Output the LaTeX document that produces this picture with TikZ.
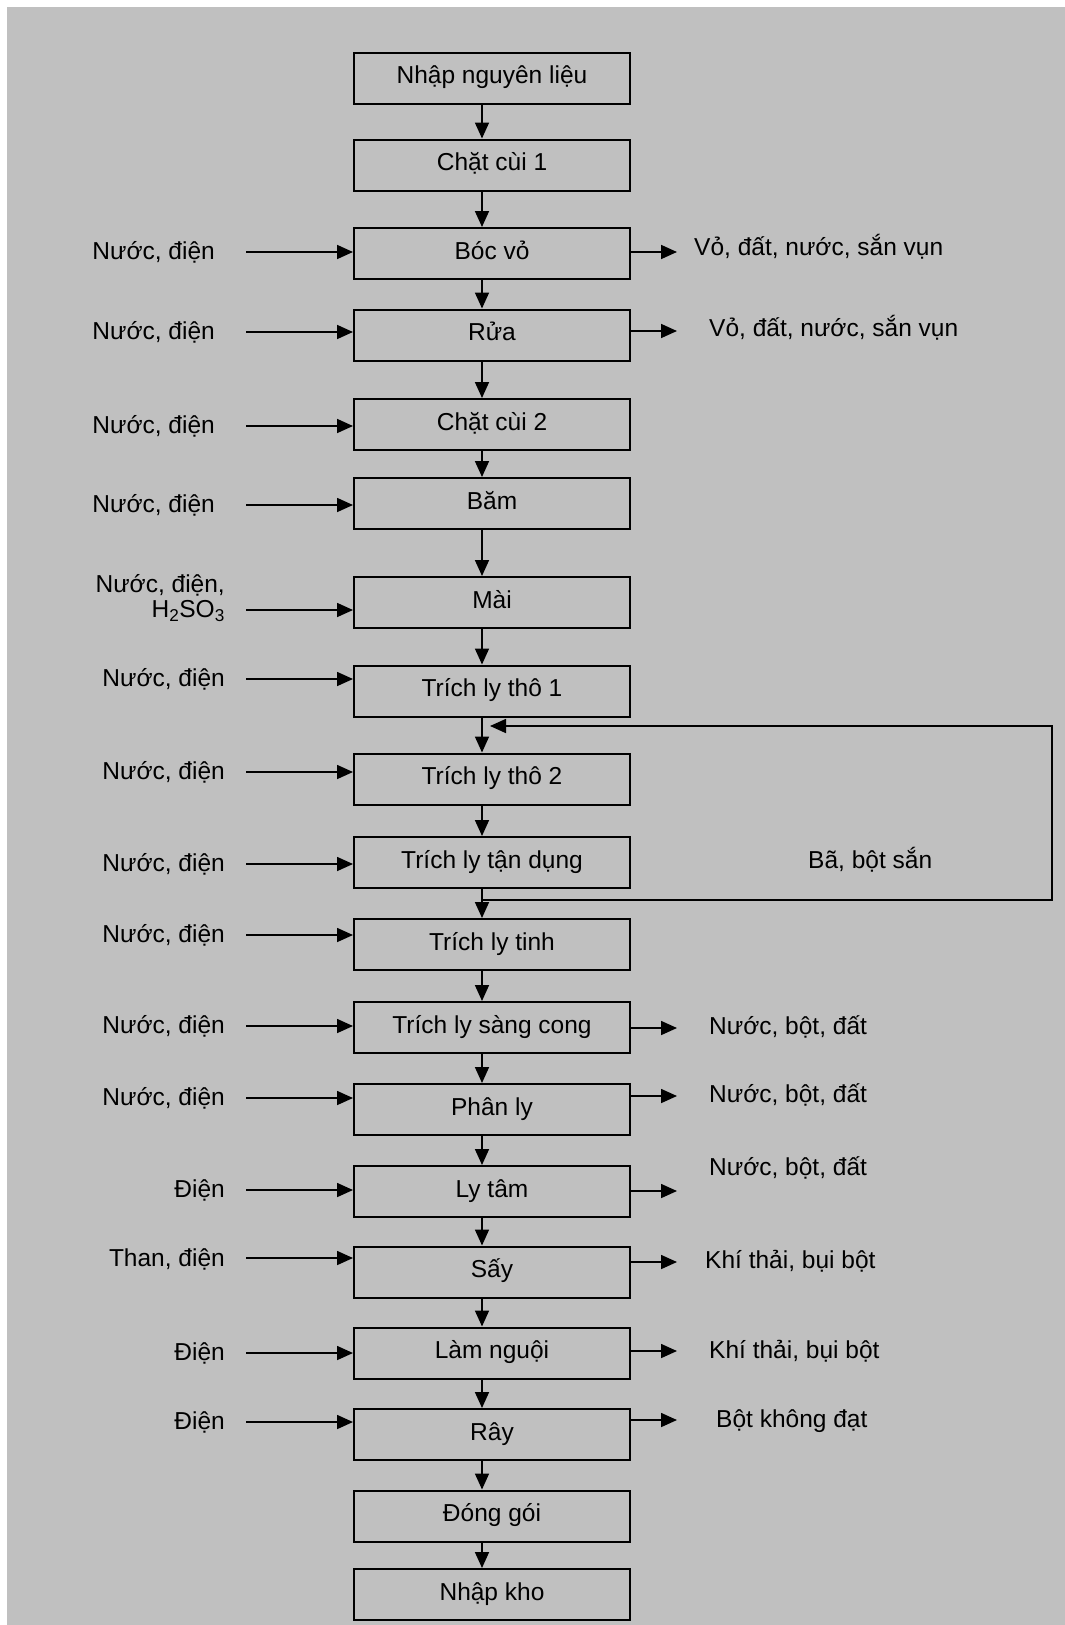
\documentclass[tikz,border=0pt]{standalone}
\usepackage{fontspec}
\setmainfont{Liberation Sans}
\usetikzlibrary{arrows.meta}
\definecolor{bggray}{RGB}{192,192,192}
\begin{document}
\begin{tikzpicture}[x=1pt,y=-1pt,
  stepbox/.style={draw=black, line width=2pt, minimum width=276pt, minimum height=51pt, inner sep=0pt, text height=17pt, text depth=6pt, font=\fontsize{24.5}{29}\selectfont},
  lbl/.style={inner sep=0pt, font=\fontsize{24.5}{29}\selectfont},
  arr/.style={line width=1.7pt, -{Triangle[length=16pt,width=14pt]}}]
% background
\fill[white] (0,0) rectangle (1065,1625);
\fill[bggray] (7,7) rectangle (1065,1625);
% boxes
\node[stepbox] (b1) at (492,78) {Nhập nguyên liệu};
\node[stepbox] (b2) at (492,165) {Chặt cùi 1};
\node[stepbox] (b3) at (492,253.5) {Bóc vỏ};
\node[stepbox] (b4) at (492,335) {Rửa};
\node[stepbox] (b5) at (492,424.5) {Chặt cùi 2};
\node[stepbox] (b6) at (492,503.5) {Băm};
\node[stepbox] (b7) at (492,602.5) {Mài};
\node[stepbox] (b8) at (492,691) {Trích ly thô 1};
\node[stepbox] (b9) at (492,779) {Trích ly thô 2};
\node[stepbox] (b10) at (492,862.5) {Trích ly tận dụng};
\node[stepbox] (b11) at (492,944.5) {Trích ly tinh};
\node[stepbox] (b12) at (492,1027.5) {Trích ly sàng cong};
\node[stepbox] (b13) at (492,1109.5) {Phân ly};
\node[stepbox] (b14) at (492,1191.5) {Ly tâm};
\node[stepbox] (b15) at (492,1272) {Sấy};
\node[stepbox] (b16) at (492,1353) {Làm nguội};
\node[stepbox] (b17) at (492,1434.5) {Rây};
\node[stepbox] (b18) at (492,1516) {Đóng gói};
\node[stepbox] (b19) at (492,1594.5) {Nhập kho};
% vertical flow arrows
\coordinate (ax) at (482,0);
\foreach \a/\b in {b1/b2,b2/b3,b3/b4,b4/b5,b5/b6,b6/b7,b7/b8,b8/b9,b9/b10,b10/b11,b11/b12,b12/b13,b13/b14,b14/b15,b15/b16,b16/b17,b17/b18,b18/b19}
  \draw[arr] (\a.south -| ax) -- (\b.north -| ax);
% inputs
\coordinate (i3) at (246,252);
\coordinate (i4) at (246,332);
\coordinate (i5) at (246,426);
\coordinate (i6) at (246,505);
\coordinate (i7) at (246,610);
\coordinate (i8) at (246,679);
\coordinate (i9) at (246,772);
\coordinate (i10) at (246,864);
\coordinate (i11) at (246,935);
\coordinate (i12) at (246,1026);
\coordinate (i13) at (246,1098);
\coordinate (i14) at (246,1190);
\coordinate (i15) at (246,1258);
\coordinate (i16) at (246,1353);
\coordinate (i17) at (246,1422);
\foreach \k in {3,...,17}
  \draw[arr] (i\k) -- (i\k -| b\k.west);
\node[lbl, anchor=base east] (l3) at (215,259.5) {Nước, điện};
\node[lbl, anchor=base east] (l4) at (215,339.5) {Nước, điện};
\node[lbl, anchor=base east] (l5) at (215,433.5) {Nước, điện};
\node[lbl, anchor=base east] (l6) at (215,512.5) {Nước, điện};
\node[lbl, anchor=base east] (l7a) at (225,592) {Nước, điện,};
\node[lbl, anchor=base east] (l7b) at (225,617.5) {H\textsubscript{2}SO\textsubscript{3}};
\node[lbl, anchor=base east] (l8) at (225,686.5) {Nước, điện};
\node[lbl, anchor=base east] (l9) at (225,779.5) {Nước, điện};
\node[lbl, anchor=base east] (l10) at (225,871.5) {Nước, điện};
\node[lbl, anchor=base east] (l11) at (225,942.5) {Nước, điện};
\node[lbl, anchor=base east] (l12) at (225,1033.5) {Nước, điện};
\node[lbl, anchor=base east] (l13) at (225,1105.5) {Nước, điện};
\node[lbl, anchor=base east] (l14) at (225,1197.5) {Điện};
\node[lbl, anchor=base east] (l15) at (225,1266) {Than, điện};
\node[lbl, anchor=base east] (l16) at (225,1360.5) {Điện};
\node[lbl, anchor=base east] (l17) at (225,1429.5) {Điện};
% outputs
\coordinate (o3) at (677,252);
\coordinate (o4) at (677,331);
\coordinate (o12) at (677,1028);
\coordinate (o13) at (677,1096);
\coordinate (o14) at (677,1191);
\coordinate (o15) at (677,1262);
\coordinate (o16) at (677,1351);
\coordinate (o17) at (677,1420);
\foreach \k in {3,4,12,13,14,15,16,17}
  \draw[arr] (o\k -| b\k.east) -- (o\k);
\node[lbl, anchor=base west] (r3) at (694,255) {Vỏ, đất, nước, sắn vụn};
\node[lbl, anchor=base west] (r4) at (709,336) {Vỏ, đất, nước, sắn vụn};
\node[lbl, anchor=base west] (r12) at (709,1034) {Nước, bột, đất};
\node[lbl, anchor=base west] (r13) at (709,1102) {Nước, bột, đất};
\node[lbl, anchor=base west] (r14) at (709,1175) {Nước, bột, đất};
\node[lbl, anchor=base west] (r15) at (705,1268) {Khí thải, bụi bột};
\node[lbl, anchor=base west] (r16) at (709,1358) {Khí thải, bụi bột};
\node[lbl, anchor=base west] (r17) at (716,1427) {Bột không đạt};
% recycle loop
\coordinate (lpA) at (482,900);
\coordinate (lpB) at (1052,900);
\coordinate (lpC) at (1052,726);
\coordinate (lpD) at (490,726);
\draw[arr] (lpA) -- (lpB) -- (lpC) -- (lpD);
\node[lbl, anchor=base west] (bl) at (808,868) {Bã, bột sắn};
\end{tikzpicture}
\end{document}
